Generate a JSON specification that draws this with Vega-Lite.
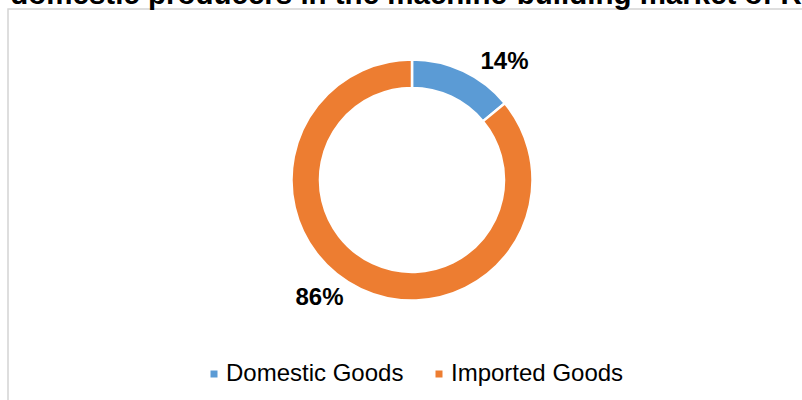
{
  "$schema": "https://vega.github.io/schema/vega-lite/v6.json",
  "width": 794,
  "height": 391,
  "autosize": {"type": "none"},
  "padding": {"left": 8, "top": 9, "right": 0, "bottom": 0},
  "background": "white",
  "title": {
    "text": "Share of domestic producers in the machine-building market of Russia",
    "anchor": "start",
    "frame": "group",
    "dx": -124,
    "dy": 28,
    "offset": 4,
    "baseline": "alphabetic",
    "font": "Liberation Sans",
    "fontSize": 29.5,
    "fontWeight": "bold",
    "color": "#000000"
  },
  "data": {
    "values": [
      {"category": "Domestic Goods", "share": 0.14},
      {"category": "Imported Goods", "share": 0.86}
    ]
  },
  "encoding": {
    "theta": {"field": "share", "type": "quantitative", "stack": true},
    "order": {"field": "category", "type": "nominal"},
    "x": {"datum": 0.5088, "type": "quantitative", "scale": {"domain": [0, 1], "nice": false, "zero": false}, "axis": null},
    "y": {"datum": 0.4373, "type": "quantitative", "scale": {"domain": [0, 1], "nice": false, "zero": false, "reverse": true}, "axis": null}
  },
  "layer": [
    {
      "mark": {"type": "arc", "outerRadius": 120.5, "innerRadius": 92, "stroke": "white", "strokeWidth": 2.5},
      "encoding": {
        "color": {
          "field": "category",
          "type": "nominal",
          "scale": {"domain": ["Domestic Goods", "Imported Goods"], "range": ["#5B9BD5", "#ED7D31"]},
          "legend": {
            "title": null,
            "orient": "none",
            "legendX": 194,
            "legendY": 353,
            "direction": "horizontal",
            "symbolType": "square",
            "symbolSize": 49,
            "symbolStrokeWidth": 0,
            "labelFont": "Liberation Sans",
            "labelFontSize": 24,
            "labelColor": "#000000",
            "labelOffset": 0,
            "labelLimit": 0,
            "columnPadding": 23,
            "padding": 0
          }
        }
      }
    },
    {
      "mark": {"type": "text", "radius": 150, "thetaOffset": 0.225, "font": "Liberation Sans", "fontSize": 24, "fontWeight": "bold", "color": "#000000"},
      "encoding": {
        "text": {"field": "share", "type": "quantitative", "format": ".0%"},
        "detail": {"field": "category", "type": "nominal"}
      }
    }
  ],
  "config": {
    "view": {"stroke": "#d4d4d4", "strokeWidth": 1.5, "strokeDash": [794, 1185, 391]}
  }
}
